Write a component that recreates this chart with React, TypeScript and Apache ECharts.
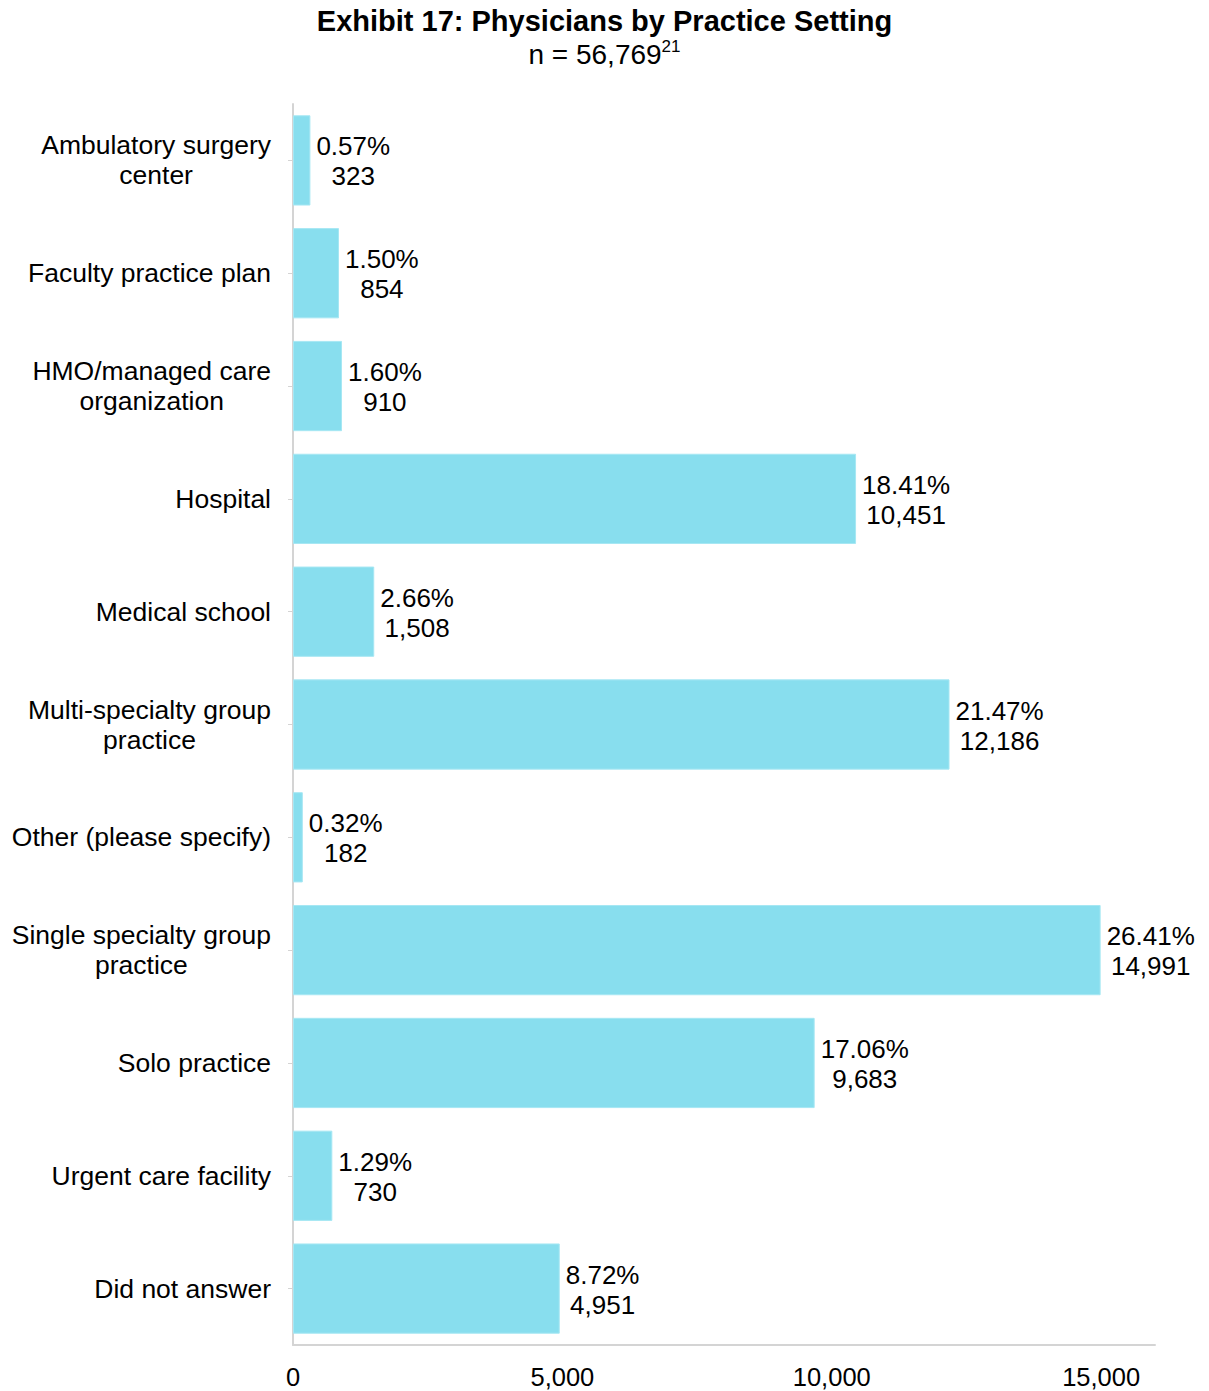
import React, { useEffect, useRef } from "react";
import * as echarts from "echarts";

const categories = [
  "Ambulatory surgery\ncenter",
  "Faculty practice plan",
  "HMO/managed care\norganization",
  "Hospital",
  "Medical school",
  "Multi-specialty group\npractice",
  "Other (please specify)",
  "Single specialty group\npractice",
  "Solo practice",
  "Urgent care facility",
  "Did not answer",
];
const counts = [323, 854, 910, 10451, 1508, 12186, 182, 14991, 9683, 730, 4951];
const percents = ["0.57", "1.50", "1.60", "18.41", "2.66", "21.47", "0.32", "26.41", "17.06", "1.29", "8.72"];
const xTicks = [0, 5000, 10000, 15000];

const FONT = "Liberation Sans, Arial, sans-serif";
const fmt = (v: number) => v.toLocaleString("en-US");

export default function App() {
  const ref = useRef<HTMLDivElement>(null);
  useEffect(() => {
    if (!ref.current) return;
    document.body.style.margin = "0";
    const chart = echarts.init(ref.current, null, { renderer: "svg" });
    chart.setOption({
      animation: false,
      backgroundColor: "#ffffff",
      textStyle: { fontFamily: FONT },
      title: {
        left: "center",
        top: 1,
        text: "Exhibit 17: Physicians by Practice Setting",
        textStyle: { fontFamily: FONT, fontSize: 29, fontWeight: "bold", color: "#000" },
        subtext: "{n|n = 56,769}{s|21}",
        itemGap: 3,
        subtextStyle: {
          fontFamily: FONT,
          color: "#000",
          rich: {
            n: { fontFamily: FONT, fontSize: 28, color: "#000", verticalAlign: "bottom", lineHeight: 30 },
            s: { fontFamily: FONT, fontSize: 17, color: "#000", verticalAlign: "top", lineHeight: 30, padding: [0, 0, 12, 0] },
          },
        },
      },
      grid: { left: 293, right: 54, top: 104, bottom: 46, containLabel: false },
      xAxis: {
        type: "value",
        min: 0,
        max: 16000,
        interval: 5000,
        splitLine: { show: false },
        axisTick: { show: false },
        axisLine: { show: true, lineStyle: { color: "#d4d4d4", width: 2 } },
        axisLabel: {
          fontFamily: FONT,
          fontSize: 25.5,
          color: "#000",
          margin: 19,
          formatter: (v: number) => (xTicks.includes(v) ? fmt(v) : ""),
        },
      },
      yAxis: {
        type: "category",
        inverse: true,
        data: categories,
        axisLine: { show: true, lineStyle: { color: "#d4d4d4", width: 2 } },
        axisTick: { show: true, alignWithLabel: true, length: 5, lineStyle: { color: "#d4d4d4", width: 1 } },
        axisLabel: {
          margin: 22,
          formatter: (v: string) => v.split("\n").map((l) => `{c|${l}}`).join("\n"),
          rich: {
            c: { align: "center", fontFamily: FONT, fontSize: 26.5, lineHeight: 30, color: "#000" },
          },
        },
      },
      series: [
        {
          type: "bar",
          data: counts,
          barCategoryGap: "20%",
          itemStyle: { color: "#88DEEE", borderColor: "#a6e7f3", borderWidth: 1 },
          label: {
            show: true,
            position: "right",
            distance: 6,
            formatter: (p: any) => `{c|${percents[p.dataIndex]}%}\n{c|${fmt(p.value)}}`,
            rich: {
              c: { align: "center", fontFamily: FONT, fontSize: 26, lineHeight: 30, color: "#000", padding: [2, 0, 0, 0] },
            },
          },
        },
      ],
    });
    return () => chart.dispose();
  }, []);
  return <div ref={ref} style={{ width: 1209, height: 1391 }} />;
}
